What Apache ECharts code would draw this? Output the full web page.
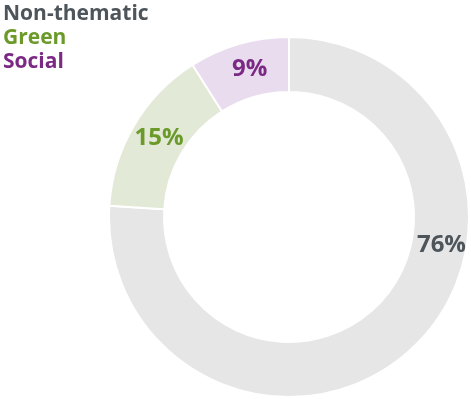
<!DOCTYPE html>
<html><head><meta charset="utf-8">
<script src="https://cdn.jsdelivr.net/npm/echarts@6/dist/echarts.min.js"></script>
<style>html,body{margin:0;padding:0;background:#fff}#c{width:471px;height:399px}</style>
</head><body><div id="c"></div>
<script>
const categories = ['Non-thematic', 'Green', 'Social'];
const values = [76, 15, 9];
const fillColors = ['#e6e6e6', '#e2e9d6', '#e9dcef'];
const textColors = ['#4d555b', '#6b9a2a', '#7b2a84'];

const chart = echarts.init(document.getElementById('c'), null, {renderer: 'canvas'});
const font = '"Open Sans", sans-serif';
chart.setOption({
  animation: false,
  legend: {
    orient: 'vertical', left: -2, top: 2,
    icon: 'none', itemWidth: 0, itemHeight: 10, itemGap: 0, padding: 0,
    selectedMode: false,
    data: categories.map((n, i) => ({name: n, textStyle: {color: textColors[i]}})),
    textStyle: {fontFamily: font, fontWeight: 'bold', fontSize: 21, lineHeight: 24, padding: 0}
  },
  series: [{
    type: 'pie',
    center: [289, 217],
    radius: [125, 180],
    startAngle: 90,
    clockwise: true,
    avoidLabelOverlap: false,
    itemStyle: {borderColor: '#fff', borderWidth: 2},
    label: {
      show: true, position: 'inside',
      formatter: '{c}%',
      fontFamily: font, fontWeight: 'bold', fontSize: 24
    },
    labelLayout: function (p) {
      if (p.dataIndex === 0) return {dx: 46, dy: -85};
      if (p.dataIndex === 1) return {dx: 4};
      return {dx: 4, dy: 1};
    },
    emphasis: {disabled: true},
    data: categories.map((n, i) => ({
      name: n, value: values[i],
      itemStyle: {color: fillColors[i]},
      label: {color: textColors[i]}
    }))
  }]
});
</script></body></html>
